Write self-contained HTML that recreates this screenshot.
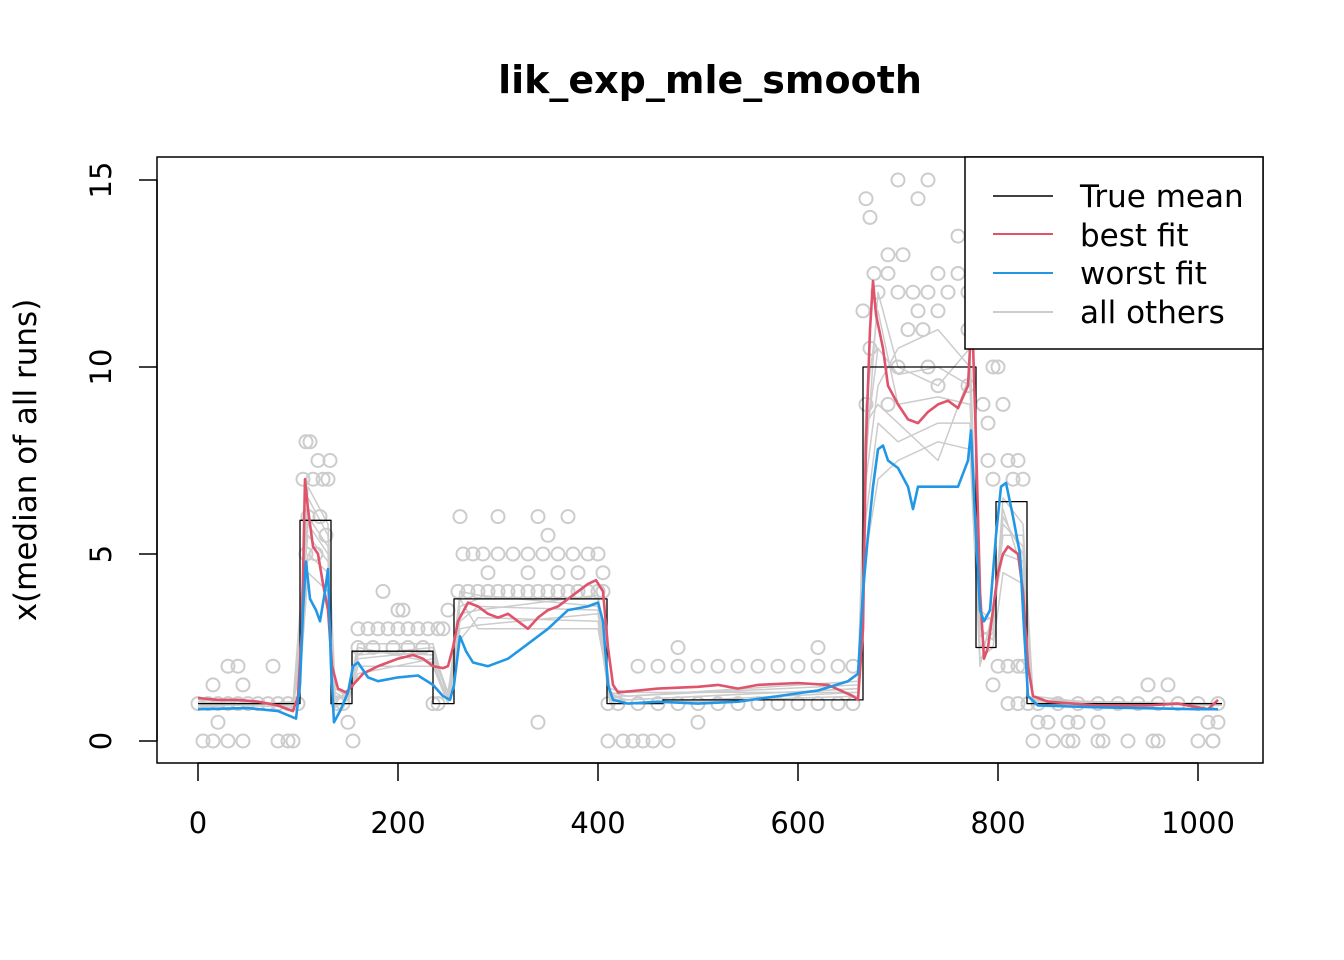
<!DOCTYPE html>
<html><head><meta charset="utf-8"><style>
body{margin:0;background:#fff}
svg{display:block;font-family:"DejaVu Sans","Liberation Sans",sans-serif}
</style></head><body>
<svg id="chart" width="1344" height="960">
<text x="710" y="93" text-anchor="middle" font-size="38" font-weight="bold">lik_exp_mle_smooth</text>
<text transform="translate(36,460) rotate(-90)" text-anchor="middle" font-size="31">x(median of all runs)</text>
<g id="pts"></g>
<g id="gray"></g>
<g id="truth"></g>
<g id="fits"></g>
<rect x="157" y="157" width="1106" height="606" fill="none" stroke="#000" stroke-width="1.5"/>
<g id="axes"></g>
<g>
<rect x="965" y="157" width="298" height="192" fill="#fff" stroke="#000" stroke-width="1.5"/>
<line x1="993" y1="196" x2="1053" y2="196" stroke="#000" stroke-width="1.5"/>
<text x="1080" y="207" font-size="31">True mean</text>
<line x1="993" y1="234" x2="1053" y2="234" stroke="#DF536B" stroke-width="2"/>
<text x="1080" y="246" font-size="31">best fit</text>
<line x1="993" y1="273" x2="1053" y2="273" stroke="#2297E6" stroke-width="2"/>
<text x="1080" y="284" font-size="31">worst fit</text>
<line x1="993" y1="312" x2="1053" y2="312" stroke="#ccc" stroke-width="2"/>
<text x="1080" y="323" font-size="31">all others</text>
</g>
</svg>
<script>
const xTicks=[0,200,400,600,800,1000];
const yTicks=[0,5,10,15];
const meanX=[0,102,133,154,235,256,409,465,665,778,798,829,1024];
const meanY=[1,5.9,1,2.4,1,3.8,1,1.1,10,2.5,6.4,1];
const bestX=[0,20,40,60,80,95,100,104,107,110,115,120,125,130,134,140,148,155,165,180,200,215,225,235,245,250,255,260,270,280,290,300,310,320,330,340,350,360,370,380,390,398,405,410,415,420,440,460,500,520,540,560,600,630,655,660,665,668,672,675,678,685,690,700,710,720,730,740,750,760,770,774,778,782,786,790,795,800,805,810,815,820,825,830,835,850,900,950,980,1000,1010,1020];
const bestY=[1.15,1.1,1.1,1.05,0.95,0.8,1.2,3,7.0,6.2,5.2,5.0,4.2,3.5,2.0,1.4,1.3,1.5,1.8,2.0,2.2,2.3,2.2,2.0,1.95,2.0,2.5,3.2,3.7,3.6,3.4,3.3,3.4,3.2,3.0,3.3,3.5,3.6,3.8,4.0,4.2,4.3,4.0,2.5,1.5,1.3,1.35,1.4,1.45,1.5,1.4,1.5,1.55,1.5,1.2,1.1,3,8,11.0,12.3,11.4,10.5,9.5,9.0,8.6,8.5,8.8,9.0,9.1,8.9,9.5,11.5,8,4,2.2,2.5,3.5,4.5,5.0,5.2,5.1,5.0,4.0,2.0,1.2,1.05,0.95,0.95,1.0,0.9,0.85,1.1];
const worstX=[0,50,80,98,102,105,108,112,118,122,127,130,133,136,142,150,155,160,170,180,200,220,235,245,252,256,262,268,275,290,310,330,350,370,390,400,405,410,415,430,460,500,540,580,620,650,660,665,670,675,680,685,690,700,710,715,720,740,760,770,773,777,782,786,792,798,803,808,815,822,826,830,840,900,1000,1020];
const worstY=[0.85,0.88,0.8,0.6,1.5,3.5,4.8,3.8,3.5,3.2,4.0,4.6,2.0,0.5,0.8,1.3,2.0,2.1,1.7,1.6,1.7,1.75,1.5,1.2,1.1,1.5,2.8,2.4,2.1,2.0,2.2,2.6,3.0,3.5,3.6,3.7,3.2,1.5,1.1,1.0,1.05,1.0,1.05,1.2,1.35,1.6,1.8,4,5.5,6.8,7.8,7.9,7.5,7.3,6.8,6.2,6.8,6.8,6.8,7.5,8.3,6,3.5,3.2,3.5,5.5,6.8,6.9,6.0,5.0,3.0,1.2,0.95,0.9,0.85,0.85];
const grayX=[0,95,103,110,130,137,150,160,235,250,262,280,400,412,430,660,668,680,700,740,772,782,795,805,825,835,900,1024];
const grayA=[1,1,3.5,6.5,5.5,1.5,1.1,2.4,2.3,1.2,3.6,3.8,3.8,1.3,1.0,1.2,8,10.5,9.8,10,9.5,2.8,3,6,5,1.1,1,1];
const grayB=[1,0.9,2.5,5.0,4.5,1.0,1.0,2.0,2.0,1.0,3.0,3.1,3.4,1.1,1.1,1.4,6,8.5,8.0,8.5,8.5,2.2,2.5,4.5,4.2,1.0,0.95,1];
const grayC=[1.1,1.0,3.0,5.8,5.0,1.2,1.2,2.6,2.6,1.1,4.0,3.9,3.6,1.2,1.2,1.5,9,11.5,9.0,9.2,9.0,3.5,3.2,5.5,5.5,1.1,1.05,1];
const grayD=[0.95,1.0,2.0,4.5,4.0,0.9,1.1,1.8,2.2,1.0,2.7,3.3,3.2,1.0,1.0,1.3,5,7.0,7.5,8.0,7.8,2.0,3.5,5.0,4.8,1.0,1.0,0.95];
const grayE=[1,1,3.2,6.0,5.2,1.3,1.1,2.2,2.4,1.3,3.4,3.5,3.9,1.4,1.3,1.3,7,9.5,10.5,11,10,3,2.7,6.5,5.8,1.2,1,1];
const grayF=[1.05,0.95,2.8,6.8,5.8,1.1,1.3,2.5,2.1,1.1,3.2,3.6,3.5,1.2,1.1,1.4,7.5,12,10,9.5,10.5,2.5,2.9,5.8,5.2,1.05,1,1];
const grayG=[0.9,1.05,3.8,5.5,4.8,1.4,1.2,2.3,2.5,1.2,3.8,3.0,3.0,1.3,1.2,1.6,8.5,9,8.5,7.5,9.8,3.2,3.3,6.2,4.5,1.1,1.05,1];
const ptX=[0,10,20,30,40,50,60,70,80,90,100,5,15,30,45,80,90,95,15,45,30,40,75,20,105,108,112,115,120,125,130,110,118,128,108,122,132,140,145,150,155,160,170,180,190,200,210,220,230,160,175,195,210,225,185,200,205,240,245,250,235,240,260,270,280,290,300,310,320,330,340,350,360,370,380,390,400,405,265,275,285,300,315,330,345,360,375,390,400,405,300,340,370,350,330,360,380,262,290,410,420,440,460,480,500,520,540,560,580,600,620,640,655,440,460,480,500,520,540,560,580,600,620,640,655,480,620,410,425,435,445,455,470,500,340,665,668,672,676,680,690,700,710,720,730,740,750,760,770,775,668,672,690,700,720,730,740,760,770,705,715,725,730,690,700,740,770,785,790,795,800,805,810,815,820,825,790,795,800,810,820,825,795,810,820,830,840,860,880,900,920,940,960,980,1000,1010,1020,840,850,870,880,900,950,970,1015,870,900,930,960,1000,835,855,875,905,955,1015,1020];
const ptY=[1,1,1,1,1,1,1,1,1,1,1,0,0,0,0,0,0,0,1.5,1.5,2,2,2,0.5,7,8,8,7,7.5,7,7,6,5,5.5,5,6,7.5,1,1,0.5,0,3,3,3,3,3,3,3,3,2.5,2.5,2.5,2.5,2.5,4,3.5,3.5,3,3,3.5,1,1,4,4,4,4,4,4,4,4,4,4,4,4,4,4,4,4,5,5,5,5,5,5,5,5,5,5,5,4.5,6,6,6,5.5,4.5,4.5,4.5,6,4.5,1,1,1,1,1,1,1,1,1,1,1,1,1,1,2,2,2,2,2,2,2,2,2,2,2,2,2.5,2.5,0,0,0,0,0,0,0.5,0.5,11.5,14.5,14,12.5,12,12.5,12,11,11.5,12,11.5,12,12.5,12,11,9,10.5,13,15,14.5,15,12.5,13.5,11,13,12,11,10,9,10,9.5,9.5,9,8.5,10,10,9,7.5,7,7.5,7,7.5,7,2,2,2,2,1.5,1,1,1,1,1,1,1,1,1,1,1,1,0.5,0.5,0.5,0.5,0.5,0.5,0.5,1.5,1.5,0,0,0,0,0,0,0,0,0,0,0,0,1];
const NS='http://www.w3.org/2000/svg';
const X=v=>198+v*1.0, Y=v=>741-v*37.4;
function mk(tag,attrs,parent){const e=document.createElementNS(NS,tag);for(const k in attrs)e.setAttribute(k,attrs[k]);parent.appendChild(e);return e;}
const axes=document.getElementById('axes');
let e=mk('line',{x1:X(0),x2:X(1000),y1:763,y2:763,stroke:'#000','stroke-width':1.5},axes);


xTicks.forEach(t=>{
 let l=mk('line',{x1:X(t),x2:X(t),y1:763,y2:781,stroke:'#000','stroke-width':1.5},axes);
 
 
 let s=mk('text',{x:X(t),y:833,'text-anchor':'middle','font-size':29},axes);s.textContent=t;
 
 
});
e=mk('line',{x1:157,x2:157,y1:Y(0),y2:Y(15)},axes);
e.setAttribute('stroke','#000');e.setAttribute('stroke-width','1.5');


yTicks.forEach(t=>{
 let l=mk('line',{x1:139,x2:157,y1:Y(t),y2:Y(t),stroke:'#000','stroke-width':1.5},axes);
 
 
 let s=mk('text',{transform:`translate(111,${Y(t)}) rotate(-90)`,'text-anchor':'middle','font-size':29},axes);s.textContent=t;
 
 
});
const pts=document.getElementById('pts');
ptX.forEach((x,i)=>{let c=mk('circle',{cx:X(x),cy:Y(ptY[i]),r:6.5,fill:'none',stroke:'#ccc','stroke-width':2},pts);
 
 });
function poly(xs,ys,col,w,g,name){const d=xs.map((x,i)=>X(x).toFixed(1)+','+Y(ys[i]).toFixed(1)).join(' ');
 const p=mk('polyline',{points:d,fill:'none',stroke:col,'stroke-width':w,'stroke-linejoin':'round'},g);
 
 return p;}
const gray=document.getElementById('gray');
[grayA,grayB,grayC,grayD,grayE,grayF,grayG].forEach(ys=>poly(grayX,ys,'#ccc',1.5,gray,'other-fit-line'));
const tx=[],ty=[];
meanY.forEach((v,i)=>{tx.push(meanX[i],meanX[i+1]);ty.push(v,v);});
poly(tx,ty,'#000',1.3,document.getElementById('truth'),'true-mean');
const fits=document.getElementById('fits');
poly(bestX,bestY,'#DF536B',2.6,fits,'best-fit-line');
poly(worstX,worstY,'#2297E6',2.6,fits,'worst-fit-line');
</script>
</body></html>
